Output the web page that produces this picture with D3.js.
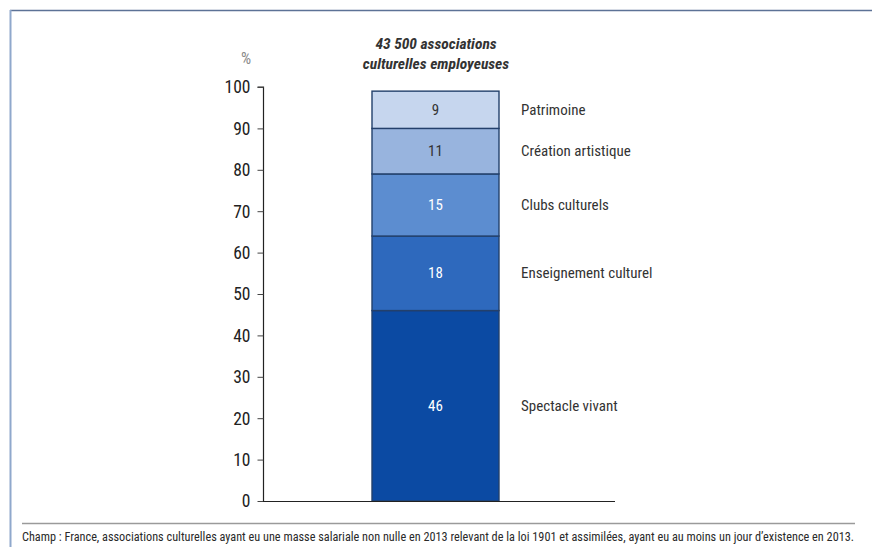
<!DOCTYPE html>
<html>
<head>
<meta charset="utf-8">
<script src="https://cdn.jsdelivr.net/npm/d3@7"></script>
<style>
  html, body { margin: 0; padding: 0; background: #fff; }
  svg { display: block; font-family: "Liberation Sans Narrow", "Roboto Condensed", "DejaVu Sans Condensed", sans-serif; }
</style>
</head>
<body>
<svg id="chart" width="872" height="547"></svg>
<script>
// Répartition des associations culturelles employeuses par secteur (%)
const categories = ["Spectacle vivant", "Enseignement culturel", "Clubs culturels", "Création artistique", "Patrimoine"];
const values = [46, 18, 15, 11, 9];
const colors = ["#0b4aa3", "#2e69bd", "#5c8dd0", "#98b4de", "#c6d6ee"];
const labelColors = ["#ffffff", "#ffffff", "#ffffff", "#333333", "#333333"];
const tickValues = [0, 10, 20, 30, 40, 50, 60, 70, 80, 90, 100];
const titleLines = ["43 500 associations", "culturelles employeuses"];
const footnote = "Champ : France, associations culturelles ayant eu une masse salariale non nulle en 2013 relevant de la loi 1901 et assimilées, ayant eu au moins un jour d’existence en 2013.";

const svg = d3.select("#chart");
const FONT = "'Liberation Sans Narrow', 'Roboto Condensed', 'DejaVu Sans Condensed', sans-serif";

// cadre
svg.append("line").attr("x1", 10).attr("x2", 872).attr("y1", 10.5).attr("y2", 10.5)
  .attr("stroke", "#5d7296").attr("stroke-width", 1.5);
svg.append("line").attr("x1", 10.5).attr("x2", 10.5).attr("y1", 10).attr("y2", 547)
  .attr("stroke", "#8fa8cc").attr("stroke-width", 2);

const y = d3.scaleLinear().domain([0, 100]).range([501, 87]);
const barX0 = 372, barX1 = 499;

// axe vertical
const axis = d3.axisLeft(y).tickValues(tickValues).tickSize(6).tickPadding(7);
const gAxis = svg.append("g").attr("transform", "translate(263.5,0)").call(axis)
  .attr("font-family", FONT);
gAxis.select(".domain").attr("stroke", "#222").attr("stroke-width", 1.2).attr("d", `M-6,${y(100)}H0V${y(0)}`);
gAxis.selectAll(".tick line").attr("stroke", "#444").attr("stroke-width", 1);
gAxis.selectAll(".tick text").attr("font-size", 17.5).attr("fill", "#222").attr("dy", "0.34em");

svg.append("text").attr("x", 251).attr("y", 64).attr("text-anchor", "end")
  .attr("font-size", 16).attr("fill", "#8a8a8a").text("%");

// barre empilée
const stacked = [];
let acc = 0;
values.forEach((v, i) => { stacked.push({ cat: categories[i], v, y0: acc, y1: acc + v, i }); acc += v; });

const g = svg.append("g");
g.selectAll("rect.seg").data(stacked).join("rect")
  .attr("class", "seg")
  .attr("x", barX0).attr("width", barX1 - barX0)
  .attr("y", d => y(d.y1)).attr("height", d => y(d.y0) - y(d.y1))
  .attr("fill", d => colors[d.i])
  .attr("stroke", "#23406b").attr("stroke-width", 1.4);

g.selectAll("text.val").data(stacked).join("text")
  .attr("class", "val")
  .attr("x", (barX0 + barX1) / 2)
  .attr("y", d => y((d.y0 + d.y1) / 2) + 5)
  .attr("text-anchor", "middle").attr("font-size", 15)
  .attr("fill", d => labelColors[d.i])
  .text(d => d.v);

g.selectAll("text.cat").data(stacked).join("text")
  .attr("class", "cat")
  .attr("x", 521)
  .attr("y", d => y((d.y0 + d.y1) / 2) + 5)
  .attr("font-size", 15).attr("fill", "#333")
  .text(d => d.cat);

// ligne de base
svg.append("line").attr("x1", 263).attr("x2", 615).attr("y1", y(0) + 0.5).attr("y2", y(0) + 0.5)
  .attr("stroke", "#222").attr("stroke-width", 1.2);

// titre
svg.append("text").attr("x", 436).attr("y", 49)
  .attr("text-anchor", "middle").attr("font-size", 15.5).attr("font-weight", "bold")
  .attr("font-style", "italic").attr("fill", "#333")
  .selectAll("tspan").data(titleLines).join("tspan")
  .attr("x", 436).attr("dy", (d, i) => i === 0 ? 0 : 20).text(d => d);

// note
svg.append("line").attr("x1", 22).attr("x2", 855).attr("y1", 523.5).attr("y2", 523.5)
  .attr("stroke", "#9a9a9a").attr("stroke-width", 1.5);
svg.append("text").attr("x", 22).attr("y", 541)
  .attr("font-size", 12.2).attr("fill", "#2a2a2a")
  .attr("textLength", 832).attr("lengthAdjust", "spacingAndGlyphs")
  .text(footnote);
</script>
</body>
</html>
